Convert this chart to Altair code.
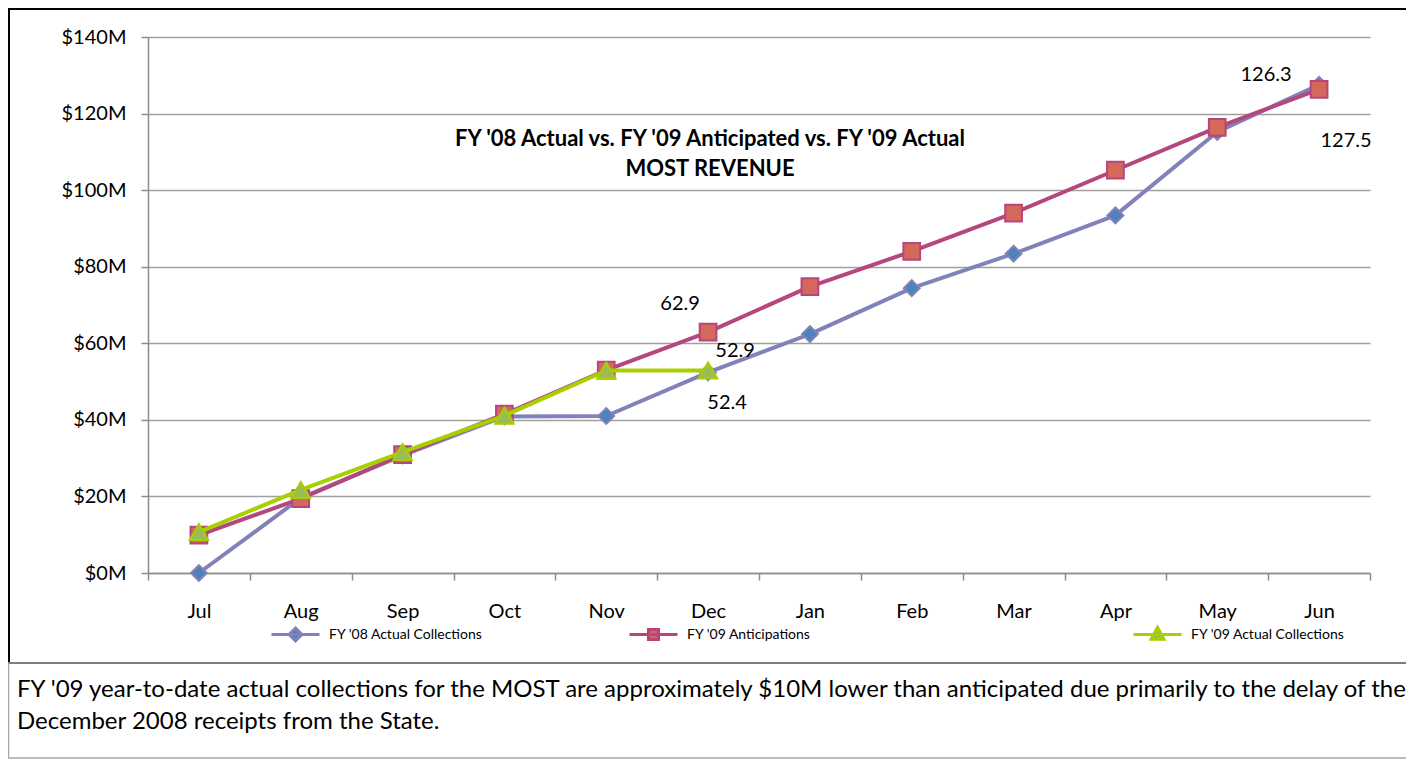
import altair as alt
import pandas as pd

# ---------------- data ----------------
months = ["Jul", "Aug", "Sep", "Oct", "Nov", "Dec", "Jan", "Feb", "Mar", "Apr", "May", "Jun"]
fy08_actual = [0.0, 19.6, 30.7, 40.9, 41.0, 52.4, 62.4, 74.4, 83.4, 93.4, 115.2, 127.5]
fy09_anticipated = [9.9, 19.4, 30.9, 41.5, 53.0, 62.9, 74.8, 84.0, 94.0, 105.2, 116.4, 126.3]
fy09_actual = [10.7, 21.7, 31.6, 41.1, 52.9, 52.9]
series_names = ["FY '08 Actual Collections", "FY '09 Anticipations", "FY '09 Actual Collections"]
y_ticks = [0, 20, 40, 60, 80, 100, 120, 140]

title_lines = ["FY '08 Actual vs. FY '09 Anticipated vs. FY '09 Actual", "MOST REVENUE"]
note_lines = [
    "FY '09 year-to-date actual collections for the MOST are approximately  $10M lower than anticipated due primarily to the delay of the",
    "December 2008 receipts from the State.",
]

# data labels: (series index, month)
label_points = [(1, "Dec"), (2, "Dec"), (0, "Dec"), (1, "Jun"), (0, "Jun")]

# ---------------- styling ----------------
FONT = "Lato"
line_colors = ["#8282BA", "#B5467E", "#A8CF00"]
marker_fills = ["#4F81BD", "#D4685A", "#9BBB59"]
marker_shapes = ["diamond", "square", "triangle-up"]
marker_sizes = [250, 280, 340]
legend_paths = [
    "M-1,0H1M0,-0.27L0.27,0L0,0.27L-0.27,0Z",
    "M-1,0H1M-0.21,-0.21H0.21V0.21H-0.21Z",
    "M-1,0H1M0,-0.3L0.27,0.2L-0.27,0.2Z",
]
legend_x = [122, 480, 984]
label_offsets = [(-28, -28), (27, -19), (19, 31), (-53, -14), (27, 56)]

series_values = [fy08_actual, fy09_anticipated, fy09_actual]
frames = []
for name, vals in zip(series_names, series_values):
    frames.append(pd.DataFrame({"month": months[: len(vals)], "value": vals, "series": name}))

x_enc = alt.X(
    "month:N",
    sort=months,
    bandPosition=0.5,
    scale=alt.Scale(type="band", domain=months, paddingInner=0, paddingOuter=0),
    axis=alt.Axis(
        title=None, labelAngle=0, tickBand="extent", grid=False,
        labelFont=FONT, labelFontSize=20, labelColor="#000000", labelPadding=21,
        tickSize=7, tickWidth=1.5, tickColor="#8C8C8C",
        domainColor="#8C8C8C", domainWidth=1.5,
    ),
)
y_enc = alt.Y(
    "value:Q",
    scale=alt.Scale(domain=[0, 140], nice=False),
    axis=alt.Axis(
        title=None, values=y_ticks, labelExpr="'$' + datum.value + 'M'",
        grid=True, gridColor="#A0A0A0", gridWidth=1.5,
        labelFont=FONT, labelFontSize=20, labelColor="#000000", labelPadding=15,
        tickSize=7, tickWidth=1.5, tickColor="#8C8C8C",
        domainColor="#8C8C8C", domainWidth=1.5,
    ),
)

one = pd.DataFrame({"k": [0]})

# frame of the chart and note box
frame = alt.Chart(one).mark_rect(fillOpacity=0, stroke="#000000", strokeWidth=2).encode(
    x=alt.value(-139), x2=alt.value(1300), y=alt.value(-28), y2=alt.value(626)
)
notebox = alt.Chart(one).mark_rect(fillOpacity=0, stroke="#A6A6A6", strokeWidth=1.5).encode(
    x=alt.value(-139.5), x2=alt.value(1300), y=alt.value(626), y2=alt.value(721)
)
layers = [frame, notebox]

note_y = [660, 692]
for txt, yy in zip(note_lines, note_y):
    layers.append(
        alt.Chart(one).mark_text(text=txt, font=FONT, fontSize=24, align="left", baseline="alphabetic", color="#000000")
        .encode(x=alt.value(-131), y=alt.value(yy))
    )

title_y = [109, 139]
for txt, yy in zip(title_lines, title_y):
    layers.append(
        alt.Chart(one).mark_text(text=txt, font=FONT, fontSize=22, fontWeight="bold", align="center",
                                 baseline="alphabetic", color="#000000")
        .encode(x=alt.value(562), y=alt.value(yy))
    )

for i, df in enumerate(frames):
    base = alt.Chart(df).encode(x=x_enc, y=y_enc)
    layers.append(base.mark_line(color=line_colors[i], strokeWidth=4, strokeJoin="round"))
    layers.append(base.mark_point(shape=marker_shapes[i], size=marker_sizes[i], filled=True, opacity=1,
                                  fill=marker_fills[i], stroke=line_colors[i], strokeWidth=2))

for (si, m), (dx, dy) in zip(label_points, label_offsets):
    df = frames[si]
    row = df[df["month"] == m].copy()
    row["label"] = row["value"].map(lambda v: f"{v:.1f}")
    layers.append(
        alt.Chart(row).mark_text(font=FONT, fontSize=20, color="#000000", dx=dx, dy=dy,
                                 align="center", baseline="middle")
        .encode(x=x_enc, y=y_enc, text="label:N")
    )

# legend layers (no marks drawn, only legends)
for i, name in enumerate(series_names):
    leg = alt.Chart(frames[i]).transform_filter("false").mark_point(
        shape=legend_paths[i], filled=True, fill=marker_fills[i], strokeWidth=3
    ).encode(
        stroke=alt.Stroke(
            "series:N",
            scale=alt.Scale(domain=[name], range=[line_colors[i]]),
            legend=alt.Legend(
                title=None, orient="none", legendX=legend_x[i], legendY=572, padding=0,
                symbolType=legend_paths[i], symbolSize=2304, symbolStrokeWidth=3, symbolOpacity=1,
                labelFont=FONT, labelFontSize=14, labelColor="#000000", labelOffset=8,
            ),
        )
    )
    layers.append(leg)

chart = alt.layer(*layers).resolve_scale(stroke="independent").properties(
    width=1222, height=536,
    autosize=alt.AutoSizeParams(type="none"),
    padding={"left": 140, "top": 29, "right": 36, "bottom": 187},
    background="white",
).configure_view(stroke=None)

chart.save("out.html", embed_options={"renderer": "svg", "actions": False})
